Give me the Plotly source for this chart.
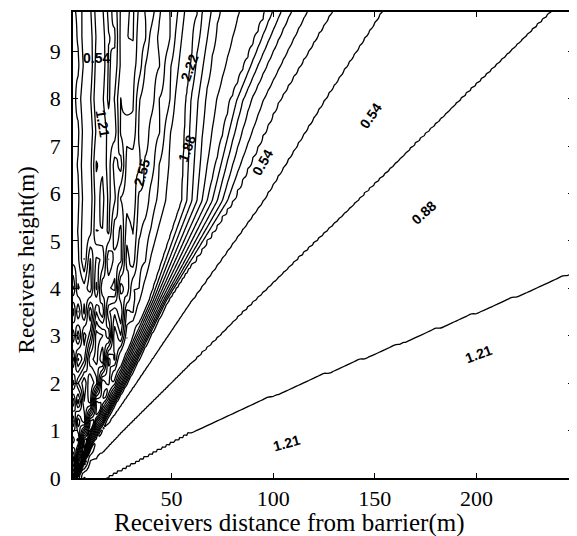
import numpy as np
import plotly.graph_objects as go

# ---- data ----
# value carried by each contour line (left to right) and the x position (m) of that
# line at several receiver heights (m)
line_value = [0.95, 1.1, 1.5, 2.2175, 2.5525, 2.8875, 3.2225, 3.5575, 4.05, 3.8925, 3.5575,
              3.2225, 2.8875, 2.5525, 2.2175, 1.8825, 1.5475, 1.2125, 0.8775, 0.5425,
              0.40, 0.5425, 0.8775, 1.2125, 1.40]
line_height = [0, 1, 2, 3.75, 5.85, 7.96, 9.83]
line_x_at_height = [
    [1, 1.5, 1.8, 2.0, 2.1, 2.2, 2.3, 2.4, 2.5, 2.6, 2.7, 2.8, 2.9, 3.0, 3.1, 3.2, 3.3, 3.4, 3.5, 3.6, 3.7, 3.8, 4.0, 17, 5000],
    [1, 3, 4.5, 6, 6.6, 7.3, 8, 8.6, 9.3, 10, 10.5, 11, 11.5, 12, 12.5, 13, 13.5, 14, 14.5, 15, 15.7, 16.5, 26, 60, 5000],
    [1, 6, 9, 12, 13.5, 15, 16.5, 18, 19.5, 21, 21.8, 22.6, 23.4, 24.2, 25, 25.7, 26.3, 27, 27.6, 28.2, 30, 32.5, 49.5, 113, 5000],
    [1, 10, 16, 22, 24.5, 27, 29.5, 32, 35, 39, 40, 41, 42, 43, 44, 45, 46, 46.8, 47.5, 48.5, 54, 60, 90.5, 214, 5000],
    [1, 13, 20, 28, 31, 35, 39, 43, 49, 55, 57.5, 60, 62.5, 65, 67.5, 70, 72.5, 75, 77.5, 80, 87, 95, 141, 330, 5000],
    [1, 17, 25, 33, 36, 41, 45, 48.5, 53, 57, 59.5, 63, 66.5, 72, 79, 82, 85, 89, 95, 103, 113, 125, 191, 450, 5000],
    [1, 20, 30, 38, 41, 46, 50, 53, 58, 62.7, 65.1, 69.5, 73.4, 83.2, 96.4, 99.4, 103.8, 108.7, 116.5, 128.7, 140, 153.2, 236, 558, 5000],
]

# irregular (scattered) part near the barrier: deviation at distance (cols) and height (rows)
irr_x = [1.5, 4, 7, 10, 13, 16, 19, 22, 25, 28, 31, 34, 37, 40, 44, 48, 52]
irr_height = [0, 0.4, 0.8, 1.2, 1.6, 2.0, 2.5, 3.0, 3.5, 4.0, 4.6, 5.2, 5.9, 6.6, 7.3, 8.0, 8.7, 9.3, 9.83]
irr_value = [
    [0.6, -0.5, 0.3, 0, 0, 0, 0, 0, 0, 0, 0, 0, 0, 0, 0, 0, 0],
    [-0.7, 0.8, -0.6, 0.2, 0, 0, 0, 0, 0, 0, 0, 0, 0, 0, 0, 0, 0],
    [0.8, -0.4, 0.9, -0.7, 0.3, 0, 0, 0, 0, 0, 0, 0, 0, 0, 0, 0, 0],
    [-0.5, 1.0, -0.8, 0.6, -0.6, 0.2, 0, 0, 0, 0, 0, 0, 0, 0, 0, 0, 0],
    [0.9, -0.7, 0.4, -0.9, 0.8, -0.4, 0.2, 0, 0, 0, 0, 0, 0, 0, 0, 0, 0],
    [-0.6, 0.5, 1.0, -0.5, -0.7, 0.8, -0.5, 0.2, 0, 0, 0, 0, 0, 0, 0, 0, 0],
    [0.7, -0.9, -0.3, 0.8, 0.5, -0.9, 0.7, -0.4, 0.2, 0, 0, 0, 0, 0, 0, 0, 0],
    [-0.4, 0.8, -0.7, -0.2, 0.9, 0.3, -0.8, 0.6, -0.5, 0.2, 0, 0, 0, 0, 0, 0, 0],
    [0.8, -0.5, 0.6, -0.9, 0.2, -0.7, 0.5, 0.4, -0.6, 0.4, -0.2, 0, 0, 0, 0, 0, 0],
    [-0.5, 0.6, 0.3, 0.7, -0.8, 0.4, -0.2, -0.7, 0.6, -0.3, 0.3, -0.1, 0, 0, 0, 0, 0],
    [0.4, 0.3, -0.5, 0.5, -0.4, -0.5, 0.6, -0.2, -0.5, 0.4, -0.3, 0.2, -0.1, 0, 0, 0, 0],
    [0.5, 0.2, -0.4, -0.3, 0.4, 0.2, -0.4, 0.3, -0.3, 0.3, -0.2, 0.1, 0.1, 0, 0, 0, 0],
    [0.4, 0.3, -0.3, -0.4, 0.3, 0.4, -0.3, -0.2, 0.3, 0.2, -0.3, 0.2, -0.1, 0.1, 0, 0, 0],
    [0.4, 0.2, -0.4, -0.3, 0.5, 0.3, -0.3, 0.2, -0.4, 0.3, 0.1, -0.2, 0.1, -0.1, 0.1, 0, 0],
    [0.3, 0.3, -0.3, -0.4, 0.2, 0.4, -0.2, -0.4, 0.3, 0.2, -0.2, 0.1, -0.1, 0.1, -0.1, 0.1, 0],
    [0.4, 0.1, -0.4, -0.2, 0.4, 0.2, -0.4, -0.1, 0.4, -0.1, -0.2, 0.2, 0.1, -0.1, 0.1, -0.1, 0],
    [0.3, 0.3, -0.2, -0.4, 0.3, 0.4, -0.3, -0.3, 0.2, 0.2, -0.1, -0.1, 0.1, 0.1, -0.1, 0.1, 0],
    [0.4, 0.2, -0.3, -0.3, 0.2, 0.3, -0.2, -0.4, 0.3, 0.1, -0.2, 0.1, -0.1, 0.1, 0.1, -0.1, 0],
    [0.3, 0.2, -0.3, -0.2, 0.3, 0.2, -0.3, -0.2, 0.3, 0.2, -0.1, 0.1, 0.1, -0.1, 0.1, 0.1, 0],
]

# contour labels as printed on the chart
label_text = ["0.54", "1.21", "2.55", "2.22", "1.88", "0.54", "0.54", "0.88", "1.21", "1.21"]
label_x = [13.2, 16.2, 35.2, 58.7, 57.3, 94.5, 147.8, 173.8, 201.2, 106.7]
label_y = [8.86, 7.47, 6.44, 8.65, 6.95, 6.65, 7.64, 5.6, 2.61, 0.74]
label_angle = [0, 80, -75, -70, -70, -60, -55, -42, -20, -15]

x_title = "Receivers distance from barrier(m)"
y_title = "Receivers height(m)"
x_ticks = [50, 100, 150, 200]
y_ticks = list(range(10))
X_MIN, X_MAX, Y_MAX = 1.5, 247.5, 9.83

# ---- build the grid the contour trace needs ----
xg = np.concatenate([np.arange(1.5, 10, 0.25), np.arange(10, 60, 0.5), np.linspace(60, X_MAX, 76)])
yg = np.linspace(0, Y_MAX, 197)
pos = np.array(line_x_at_height)
irr = np.array(irr_value)
Z = np.zeros((len(yg), len(xg)))
for j, yv in enumerate(yg):
    row_pos = [np.interp(yv, line_height, pos[:, k]) for k in range(pos.shape[1])]
    row_irr = [np.interp(yv, irr_height, irr[:, k]) for k in range(irr.shape[1])]
    Z[j] = np.interp(xg, row_pos, line_value) + np.interp(xg, irr_x, row_irr)

fig = go.Figure()
fig.add_trace(go.Contour(
    x=xg, y=yg, z=np.round(Z, 4),
    contours=dict(start=0.2075, end=4.3, size=0.335, coloring="lines"),
    colorscale=[[0, "black"], [1, "black"]],
    line=dict(width=1.3),
    showscale=False, hoverinfo="skip",
))

for t, x, y, a in zip(label_text, label_x, label_y, label_angle):
    fig.add_annotation(x=x, y=y, text="<b>" + t + "</b>", showarrow=False, textangle=a,
                       font=dict(family="Liberation Sans", size=14, color="black"))

fig.add_annotation(text=x_title, xref="paper", yref="paper", x=0.432, y=0, yshift=-45,
                   yanchor="middle", xanchor="center", showarrow=False,
                   font=dict(family="Liberation Serif", size=25, color="black"))
fig.add_annotation(text=y_title, xref="paper", yref="paper", x=0, xshift=-47, y=0.467,
                   xanchor="center", yanchor="middle", textangle=-90, showarrow=False,
                   font=dict(family="Liberation Serif", size=23, color="black"))

axis_common = dict(showline=True, linecolor="black", linewidth=1.5, mirror="allticks",
                   ticks="inside", ticklen=5, tickcolor="black", showgrid=False, zeroline=False,
                   tickfont=dict(family="Liberation Serif", size=22, color="black"))
fig.update_xaxes(range=[X_MIN, X_MAX], tickvals=x_ticks, **axis_common)
fig.update_yaxes(range=[0, Y_MAX], tickvals=y_ticks, ticklabelstandoff=6, **axis_common)
# the page body adds an 8 px offset, so the figure is 8 px smaller and margins shifted
fig.update_layout(width=569, height=528, margin=dict(l=65, r=2, t=3, b=58),
                  paper_bgcolor="white", plot_bgcolor="white", showlegend=False)
fig.write_html("out.html")
